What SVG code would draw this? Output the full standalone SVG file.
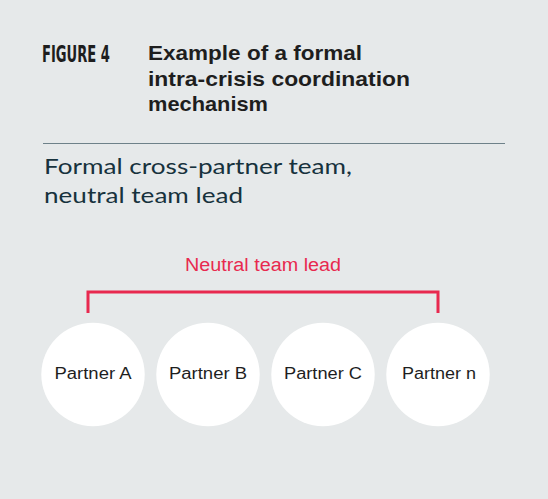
<svg xmlns="http://www.w3.org/2000/svg" width="548" height="499" viewBox="0 0 548 499">
<style>
.title{font-family:"Liberation Sans",Arial,sans-serif;font-weight:bold;font-size:21px;fill:#1e1e1e}
.fig{font-family:"Liberation Sans Narrow","DejaVu Sans Condensed",sans-serif;font-weight:bold;font-size:23px;fill:#1e1e1e}
.sub{font-family:"Lato","Open Sans",sans-serif;font-size:22px;fill:#17323d}
.lead{font-family:"Liberation Sans",Arial,sans-serif;font-size:18px;fill:#e8294f}
.node circle{fill:#ffffff}
.node text{font-family:"Liberation Sans",Arial,sans-serif;font-size:16px;fill:#1e1e1e;text-anchor:middle}
</style>
<rect width="548" height="499" fill="#e6e9ea"/>
<text class="fig" x="42" y="62" textLength="68" lengthAdjust="spacingAndGlyphs">FIGURE 4</text>
<text class="title" x="148" y="60" textLength="214" lengthAdjust="spacingAndGlyphs">Example of a formal</text>
<text class="title" x="148" y="86" textLength="262" lengthAdjust="spacingAndGlyphs">intra-crisis coordination</text>
<text class="title" x="148" y="111" textLength="120" lengthAdjust="spacingAndGlyphs">mechanism</text>
<line x1="43" y1="143.5" x2="505" y2="143.5" stroke="#6e8189" stroke-width="1"/>
<text class="sub" x="44" y="174" textLength="308" lengthAdjust="spacingAndGlyphs">Formal cross-partner team,</text>
<text class="sub" x="44" y="203" textLength="199" lengthAdjust="spacingAndGlyphs">neutral team lead</text>
<g id="connectors">
<text class="lead" x="185" y="271" textLength="156" lengthAdjust="spacingAndGlyphs">Neutral team lead</text>
<path d="M88,313 V292 H438 V313" fill="none" stroke="#e8294f" stroke-width="3"/>
</g>
<g id="partnerA" class="node"><circle cx="93" cy="374.5" r="51.7"/><text x="93" y="379" textLength="77" lengthAdjust="spacingAndGlyphs">Partner A</text></g>
<g id="partnerB" class="node"><circle cx="208" cy="374.5" r="51.7"/><text x="208" y="379" textLength="78" lengthAdjust="spacingAndGlyphs">Partner B</text></g>
<g id="partnerC" class="node"><circle cx="323" cy="374.5" r="51.7"/><text x="323" y="379" textLength="78" lengthAdjust="spacingAndGlyphs">Partner C</text></g>
<g id="partnerN" class="node"><circle cx="438" cy="374.5" r="51.7"/><text x="439" y="379" textLength="74" lengthAdjust="spacingAndGlyphs">Partner n</text></g>
</svg>
